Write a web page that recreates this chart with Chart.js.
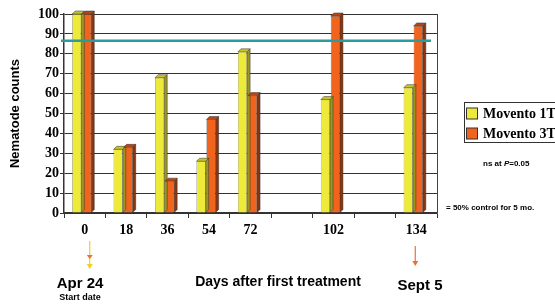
<!DOCTYPE html>
<html>
<head>
<meta charset="utf-8">
<script src="https://cdn.jsdelivr.net/npm/chart.js@4"></script>
<style>
  html, body { margin: 0; padding: 0; background: #fff; }
  #wrap { position: relative; width: 555px; height: 305px; }
</style>
</head>
<body>
<div id="wrap"><canvas id="nemaChart" width="555" height="305"></canvas></div>
<script>
// days after first treatment (blank slots keep the spacing of the original)
let days = ["0", "18", "36", "54", "72", "", "102", "", "134"];
let movento1T = [100, 32, 68, 26, 81, null, 57, null, 63];
let movento3T = [100, 33, 16, 47, 59, null, 99, null, 94];
let yTicks = [0, 10, 20, 30, 40, 50, 60, 70, 80, 90, 100];
let controlLevel = 86.5; // "= 50% control for 5 mo."

const serifBold = { family: "'Liberation Serif', 'Times New Roman', serif", weight: 'bold', size: 14 };
const sans = "'Liberation Sans', Arial, sans-serif";

// fake 3d look of the old slide: top and side faces on each bar
const bars3d = {
    id: 'bars3d',
    beforeDatasetsDraw(chart) {
        chart.ctx.save();
        chart.ctx.translate(-3, 0);
    },
    afterDatasetsDraw(chart) {
        const ctx = chart.ctx;
        const d = 3;
        chart.data.datasets.forEach((ds, i) => {
            chart.getDatasetMeta(i).data.forEach((bar, j) => {
                if (ds.data[j] == null) return;
                const l = bar.x - bar.width / 2, r = bar.x + bar.width / 2;
                const t = bar.y, b = bar.base;
                ctx.fillStyle = ds.sideColor;
                ctx.strokeStyle = '#333';
                ctx.lineWidth = 0.5;
                ctx.beginPath();
                ctx.moveTo(r, t); ctx.lineTo(r + d, t - d); ctx.lineTo(r + d, b - d); ctx.lineTo(r, b);
                ctx.closePath(); ctx.fill(); ctx.stroke();
                ctx.fillStyle = ds.topColor;
                ctx.beginPath();
                ctx.moveTo(l, t); ctx.lineTo(l + d, t - d); ctx.lineTo(r + d, t - d); ctx.lineTo(r, t);
                ctx.closePath(); ctx.fill(); ctx.stroke();
            });
        });
        ctx.restore();
    },
    afterDraw(chart) {
        const ctx = chart.ctx;
        const area = chart.chartArea;
        const y = chart.scales.y;
        ctx.save();
        // right wall
        ctx.strokeStyle = '#444';
        ctx.lineWidth = 1;
        ctx.beginPath();
        ctx.moveTo(area.right + 0.5, area.top);
        ctx.lineTo(area.right + 0.5, area.bottom);
        ctx.stroke();
        // control level line
        ctx.strokeStyle = '#2a9d9a';
        ctx.lineWidth = 2.5;
        ctx.beginPath();
        ctx.moveTo(area.left - 3, y.getPixelForValue(controlLevel));
        ctx.lineTo(area.right - 6, y.getPixelForValue(controlLevel));
        ctx.stroke();

        // arrows under the first and last day
        const x = chart.scales.x;
        const x0 = x.getPixelForValue(0) + 5;
        ctx.strokeStyle = '#f2d020';
        ctx.fillStyle = '#f2d020';
        ctx.lineWidth = 1.2;
        ctx.beginPath(); ctx.moveTo(x0, 241); ctx.lineTo(x0, 266); ctx.stroke();
        ctx.beginPath(); ctx.moveTo(x0 - 3, 264); ctx.lineTo(x0 + 3, 264); ctx.lineTo(x0, 269); ctx.closePath(); ctx.fill();
        ctx.fillStyle = '#f07030';
        ctx.beginPath(); ctx.moveTo(x0 - 3, 255); ctx.lineTo(x0 + 3, 255); ctx.lineTo(x0, 259); ctx.closePath(); ctx.fill();
        const x8 = x.getPixelForValue(8) - 1;
        ctx.strokeStyle = '#f07030';
        ctx.fillStyle = '#f07030';
        ctx.beginPath(); ctx.moveTo(x8, 246); ctx.lineTo(x8, 262); ctx.stroke();
        ctx.beginPath(); ctx.moveTo(x8 - 3, 261); ctx.lineTo(x8 + 3, 261); ctx.lineTo(x8, 266); ctx.closePath(); ctx.fill();

        // text around the chart
        ctx.fillStyle = '#000';
        ctx.textAlign = 'center';
        ctx.textBaseline = 'middle';
        ctx.font = 'bold 14px ' + sans;
        ctx.fillText('Days after first treatment', 278, 282);
        ctx.font = 'bold 15px ' + sans;
        ctx.fillText('Apr 24', 80, 284);
        ctx.fillText('Sept 5', 420, 286);
        ctx.font = 'bold 9px ' + sans;
        ctx.fillText('Start date', 80, 298);

        ctx.textAlign = 'left';
        ctx.font = 'bold 8px ' + sans;
        ctx.fillText('ns at ', 483, 164);
        let w = ctx.measureText('ns at ').width;
        ctx.font = 'italic bold 8px ' + sans;
        ctx.fillText('P', 483 + w, 164);
        w += ctx.measureText('P').width;
        ctx.font = 'bold 8px ' + sans;
        ctx.fillText('=0.05', 483 + w, 164);
        ctx.fillText('= 50% control for 5 mo.', 446, 208);

        // legend box, clipped by the right edge like the original
        ctx.strokeStyle = '#333';
        ctx.lineWidth = 1;
        ctx.strokeRect(464.5, 102.5, 100, 40);
        chart.data.datasets.forEach((ds, i) => {
            const ly = 114 + i * 20;
            ctx.fillStyle = ds.backgroundColor;
            ctx.fillRect(466.5, ly - 6, 11, 11);
            ctx.strokeRect(466.5, ly - 6, 11, 11);
            ctx.fillStyle = '#000';
            ctx.font = 'bold 14px ' + serifBold.family;
            ctx.fillText(ds.label, 483, ly);
        });
        ctx.restore();
    }
};

const ctx = document.getElementById('nemaChart');
new Chart(ctx, {
    type: 'bar',
    data: {
        labels: days,
        datasets: [{
            label: 'Movento 1T',
            data: movento1T,
            backgroundColor: '#eeea3a',
            sideColor: '#9c9620',
            topColor: '#c8c22c',
            borderColor: '#444',
            borderWidth: 0.5
        }, {
            label: 'Movento 3T',
            data: movento3T,
            backgroundColor: '#f0641e',
            sideColor: '#8a3410',
            topColor: '#b84816',
            borderColor: '#444',
            borderWidth: 0.5
        }]
    },
    options: {
        responsive: false,
        animation: false,
        categoryPercentage: 0.48,
        barPercentage: 0.92,
        layout: { padding: { top: 14, right: 118, bottom: 0, left: 0 } },
        plugins: {
            legend: { display: false },
            tooltip: { enabled: false }
        },
        scales: {
            x: {
                grid: { drawOnChartArea: false, drawTicks: true, tickLength: 5, color: '#333' },
                border: { color: '#333', width: 1.5 },
                ticks: { color: '#000', font: serifBold, padding: 4, maxRotation: 0, autoSkip: false },
                afterFit: (s) => { s.height = 92; }
            },
            y: {
                min: 0,
                max: 100,
                afterBuildTicks: (s) => { s.ticks = yTicks.map(v => ({ value: v })); },
                grid: { color: '#333', lineWidth: 1, tickLength: 4 },
                border: { color: '#333', width: 1.5 },
                ticks: { color: '#000', font: serifBold, padding: 1 },
                title: {
                    display: true,
                    text: 'Nematode counts',
                    color: '#000',
                    font: { family: sans, weight: 'bold', size: 13 },
                    padding: { top: 8, bottom: 2 }
                },
                afterFit: (s) => { s.width = 64; }
            }
        }
    },
    plugins: [bars3d]
});
</script>
</body>
</html>
